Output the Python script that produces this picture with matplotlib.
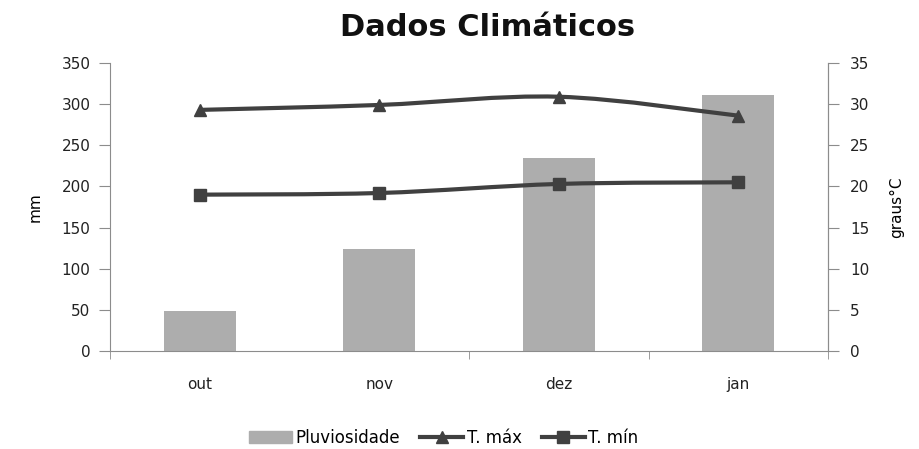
import numpy as np
import matplotlib.pyplot as plt
from matplotlib.path import Path
from matplotlib.patches import PathPatch
from matplotlib.lines import Line2D
from matplotlib.patches import Patch

meses = ['out', 'nov', 'dez', 'jan']
pluviosidade = [49, 124, 234, 311]
t_max = [29.3, 29.9, 30.9, 28.6]
t_min = [19.0, 19.2, 20.3, 20.5]

bar_col = '#adadad'
line_col = '#404040'
axis_col = '#8c8c8c'


def smooth_path(x, y, t=1/6):
    # excel-like smoothed line (catmull-rom as bezier segments)
    x = np.asarray(x, float)
    y = np.asarray(y, float)
    verts = [(x[0], y[0])]
    codes = [Path.MOVETO]
    n = len(x)
    for i in range(n - 1):
        p0 = (x[max(i - 1, 0)], y[max(i - 1, 0)])
        p1 = (x[i], y[i])
        p2 = (x[i + 1], y[i + 1])
        p3 = (x[min(i + 2, n - 1)], y[min(i + 2, n - 1)])
        c1 = (p1[0] + (p2[0] - p0[0]) * t, p1[1] + (p2[1] - p0[1]) * t)
        c2 = (p2[0] - (p3[0] - p1[0]) * t, p2[1] - (p3[1] - p1[1]) * t)
        verts += [c1, c2, p2]
        codes += [Path.CURVE4] * 3
    return Path(verts, codes)


fig = plt.figure(figsize=(9.2, 4.49), dpi=100)
ax = fig.add_axes([0.1196, 0.2183, 0.7804, 0.6414])
ax2 = ax.twinx()

x = np.arange(len(meses))
ax.bar(x, pluviosidade, width=0.4, color=bar_col, zorder=2)
ax.set_xlim(-0.5, 3.5)
ax.set_ylim(0, 350)
ax.set_yticks(range(0, 351, 50))
ax.set_xticks(x)
ax.set_xticklabels(meses)
# the reference only shows some of the category boundary ticks
ax.set_xticks([-0.5, 1.5, 2.5, 3.5], minor=True)
ax.tick_params(axis='x', which='major', length=0, pad=19)
ax.tick_params(axis='x', which='minor', length=6, color=axis_col, direction='out')
ax.tick_params(axis='y', length=8, color=axis_col, direction='out', pad=6)
ax.tick_params(labelsize=11, labelcolor='#222222')
ax.set_ylabel('mm', fontsize=11, labelpad=14)

ax2.set_ylim(0, 35)
ax2.set_yticks(range(0, 36, 5))
ax2.tick_params(axis='y', length=8, color=axis_col, direction='out', pad=8,
                labelsize=11, labelcolor='#222222')
ax2.set_ylabel('graus°C', fontsize=11, rotation=90, labelpad=14)

for a in (ax, ax2):
    a.spines['top'].set_visible(False)
    for s in ('left', 'right', 'bottom'):
        a.spines[s].set_color(axis_col)
ax2.spines['left'].set_visible(False)
ax2.spines['bottom'].set_visible(False)

for serie, mk in ((t_max, '^'), (t_min, 's')):
    ax2.add_patch(PathPatch(smooth_path(x, serie), fill=False, edgecolor=line_col,
                            linewidth=3, zorder=3))
    ax2.plot(x, serie, linestyle='none', marker=mk, markersize=9,
             color=line_col, zorder=4)

fig.text(0.53, 0.938, 'Dados Climáticos', fontsize=22, fontweight='bold',
         ha='center', va='center', color='#111111')

handles = [Patch(color=bar_col),
           Line2D([], [], color=line_col, lw=3, marker='^', markersize=9),
           Line2D([], [], color=line_col, lw=3, marker='s', markersize=9)]
fig.legend(handles, ['Pluviosidade', 'T. máx', 'T. mín'], loc='center',
           ncol=3, frameon=False, fontsize=12, bbox_to_anchor=(0.482, 0.025),
           handlelength=2.6, columnspacing=1.2, handletextpad=0.2)

fig.savefig('out.png', dpi=100)
